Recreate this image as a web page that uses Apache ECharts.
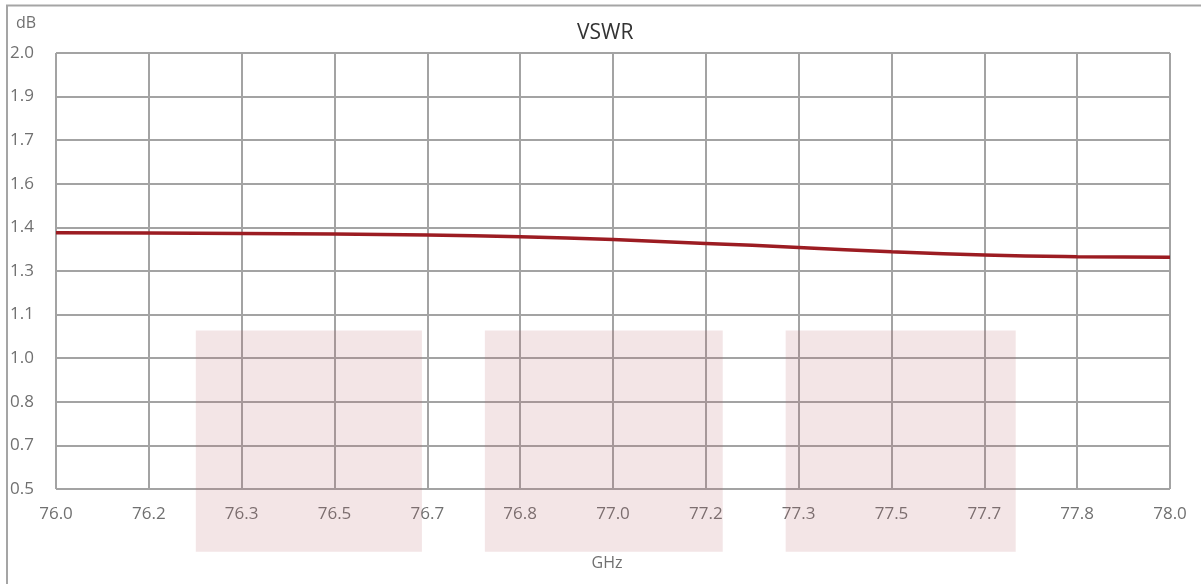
<!DOCTYPE html>
<html>
<head>
<meta charset="utf-8">
<script src="https://cdn.jsdelivr.net/npm/echarts@6/dist/echarts.min.js"></script>
<style>
html,body{margin:0;padding:0;background:#fff;}
#c{width:1201px;height:584px;}
</style>
</head>
<body>
<div id="c"></div>
<script>
// Frequency (GHz) and VSWR values
const freqs = [76.0, 76.1667, 76.3333, 76.5, 76.6667, 76.8333, 77.0, 77.1667, 77.3333, 77.5, 77.6667, 77.8333, 78.0];
const vswr  = [1.382, 1.381, 1.379, 1.377, 1.374, 1.368, 1.358, 1.345, 1.331, 1.316, 1.305, 1.299, 1.297];

// Tick labels
const xTickLabels = ['76.0','76.2','76.3','76.5','76.7','76.8','77.0','77.2','77.3','77.5','77.7','77.8','78.0'];
const yTickLabels = ['0.5','0.7','0.8','1.0','1.1','1.3','1.4','1.6','1.7','1.9','2.0'];

// Shaded bands: [xStart, xEnd] in GHz, and vertical range in dB
const bandStarts = [76.251, 76.770, 77.310];
const bandEnds   = [76.657, 77.197, 77.723];
const bandLow  = 0.284;
const bandHigh = 1.045;

const chart = echarts.init(document.getElementById('c'));
const font = '"Open Sans", "Noto Sans", sans-serif';
const gridColor = '#a3a3a3';
const labelColor = '#707070';

chart.setOption({
  animation: false,
  title: {
    text: 'VSWR', left: 572, top: 18,
    textStyle: {fontFamily: font, fontSize: 21, fontWeight: 'normal', color: '#333'}
  },
  grid: {left: 56, right: 31, top: 53, bottom: 95, containLabel: false},
  graphic: [{
    type: 'polyline', silent: true, z: 100,
    shape: {points: [[7, 600], [7, 5.5], [1300, 5.5]]},
    style: {stroke: '#a5a5a5', lineWidth: 2, fill: null}
  }],
  xAxis: {
    type: 'value', min: 76, max: 78, interval: 2/12,
    name: 'GHz', nameLocation: 'middle', nameGap: 66,
    nameTextStyle: {fontFamily: font, fontSize: 16, color: labelColor, padding: [0, 0, 0, -12]},
    axisLine: {show: false}, axisTick: {show: false},
    axisLabel: {
      margin: 17, fontFamily: font, fontSize: 17, color: labelColor,
      formatter: v => xTickLabels[Math.round((v - 76) * 6)]
    },
    splitLine: {show: true, lineStyle: {color: gridColor, width: 2}}
  },
  yAxis: {
    type: 'value', min: 0.5, max: 2.0, interval: 0.15,
    name: 'dB', nameLocation: 'end', nameGap: 22,
    nameTextStyle: {fontFamily: font, fontSize: 16, color: labelColor, align: 'left', padding: [0, 0, 0, -40]},
    axisLine: {show: false}, axisTick: {show: false},
    axisLabel: {
      margin: 46, align: 'left', fontFamily: font, fontSize: 17, color: labelColor,
      formatter: v => yTickLabels[Math.round((v - 0.5) / 0.15)]
    },
    splitLine: {show: true, lineStyle: {color: gridColor, width: 2}}
  },
  series: [
    {
      type: 'custom', clip: false, silent: true, z: 5,
      data: bandStarts.map((s, i) => [s, bandEnds[i], bandLow, bandHigh]),
      renderItem: (params, api) => {
        const p1 = api.coord([api.value(0), api.value(3)]);
        const p2 = api.coord([api.value(1), api.value(2)]);
        return {
          type: 'rect',
          shape: {x: p1[0], y: p1[1], width: p2[0] - p1[0], height: p2[1] - p1[1]},
          style: {fill: 'rgba(185, 100, 105, 0.17)'}
        };
      }
    },
    {
      type: 'line', smooth: true, showSymbol: false, z: 10,
      data: freqs.map((f, i) => [f, vswr[i]]),
      lineStyle: {color: '#9c1c22', width: 3.5}
    }
  ]
});
</script>
</body>
</html>
